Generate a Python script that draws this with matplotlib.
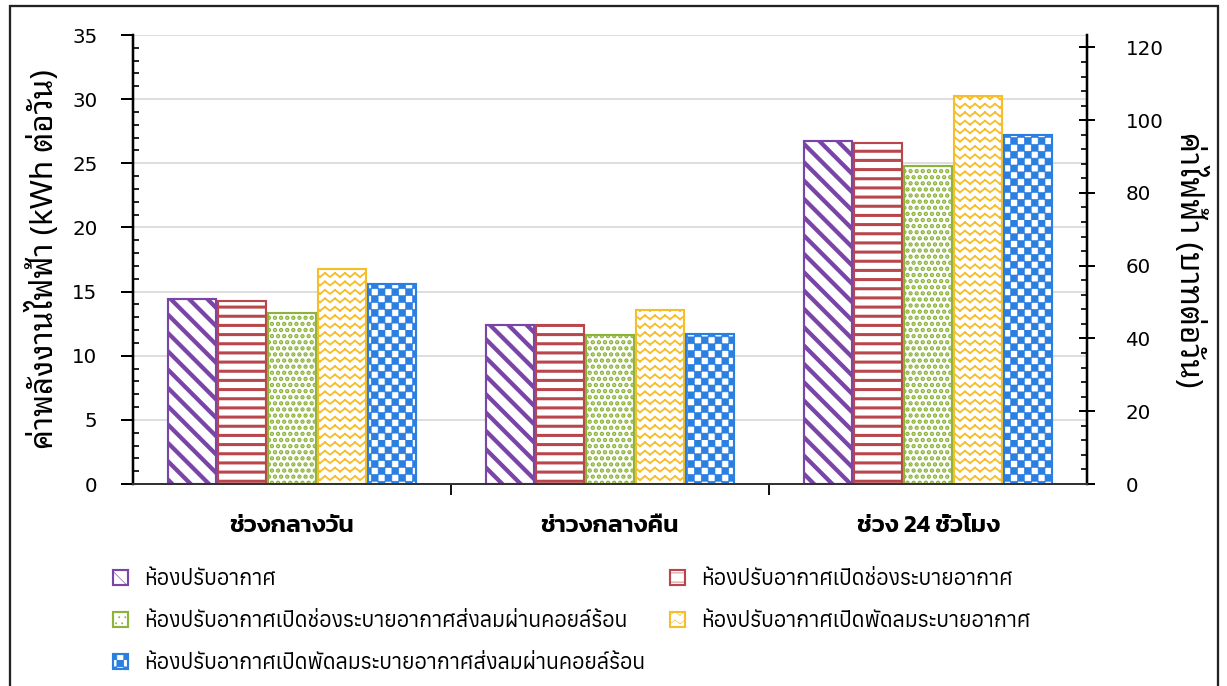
import warnings
import numpy as np
import matplotlib
matplotlib.use('Agg')
import matplotlib.pyplot as plt
import matplotlib.hatch as mhatch
from matplotlib import font_manager
from matplotlib.ft2font import FT2Font
from matplotlib.path import Path
from matplotlib.patches import Rectangle

warnings.filterwarnings('ignore')

categories = ['ช่วงกลางวัน', 'ช่าวงกลางคืน', 'ช่วง 24 ชั่วโมง']
series_names = [
    'ห้องปรับอากาศ',
    'ห้องปรับอากาศเปิดช่องระบายอากาศ',
    'ห้องปรับอากาศเปิดช่องระบายอากาศส่งลมผ่านคอยล์ร้อน',
    'ห้องปรับอากาศเปิดพัดลมระบายอากาศ',
    'ห้องปรับอากาศเปิดพัดลมระบายอากาศส่งลมผ่านคอยล์ร้อน',
]
ac = [14.4, 12.4, 26.7]
ac_vent = [14.25, 12.4, 26.55]
ac_vent_coil = [13.3, 11.6, 24.8]
ac_fan = [16.75, 13.6, 30.25]
ac_fan_coil = [15.6, 11.7, 27.2]
kwh_values = [ac, ac_vent, ac_vent_coil, ac_fan, ac_fan_coil]

baht_per_kwh = 3.526

colors = ['#7B45A8', '#B8464C', '#8CB33A', '#F5BE2A', '#2A7FE0']
hatches = ['\\\\', '--', '...', 'z', 'c']
hatch_widths = [2.8, 2.0, 2.0, 1.2, 0.4]


# extra hatch styles: zigzag ('z') and checkerboard ('c')
class ZigzagHatch(mhatch.HatchPatternBase):
    rows, cols, amp = 13, 11, 0.035

    def __init__(self, hatch, density):
        self.on = 'z' in hatch
        self.num_vertices = self.rows * self.cols * 4 if self.on else 0

    def set_vertices_and_codes(self, vertices, codes):
        k = 0
        for r in range(self.rows):
            y0 = (r + 0.5) / self.rows - self.amp / 2
            for c in range(self.cols):
                x0 = c / self.cols
                xm = (c + 0.5) / self.cols
                x1 = (c + 1) / self.cols
                vertices[k:k + 4] = [(x0, y0), (xm, y0 + self.amp),
                                     (xm, y0 + self.amp), (x1, y0)]
                codes[k:k + 4] = [Path.MOVETO, Path.LINETO,
                                  Path.MOVETO, Path.LINETO]
                k += 4


class CheckerHatch(mhatch.HatchPatternBase):
    n = 16

    def __init__(self, hatch, density):
        self.on = 'c' in hatch
        self.num_vertices = (self.n * self.n // 2) * 5 if self.on else 0

    def set_vertices_and_codes(self, vertices, codes):
        k = 0
        s = 1.0 / self.n
        for i in range(self.n):
            for j in range(self.n):
                if (i + j) % 2:
                    continue
                x, y = i * s, j * s
                vertices[k:k + 5] = [(x, y), (x + s, y), (x + s, y + s),
                                     (x, y + s), (x, y)]
                codes[k:k + 5] = [Path.MOVETO, Path.LINETO, Path.LINETO,
                                  Path.LINETO, Path.CLOSEPOLY]
                k += 5


mhatch._hatch_types.extend([ZigzagHatch, CheckerHatch])


def has_thai(fname):
    try:
        return 0x0E2B in FT2Font(fname).get_charmap()
    except Exception:
        return False


thai_fonts = sorted({f.name for f in font_manager.fontManager.ttflist
                     if has_thai(f.fname)})


def pick(*names):
    for n in names:
        if n in thai_fonts:
            return [n, 'DejaVu Sans']
    return [thai_fonts[0] if thai_fonts else 'DejaVu Sans', 'DejaVu Sans']


body_font = pick('Anuphan')
looped_font = pick('Noto Sans Thai Looped', 'IBM Plex Sans Thai Looped')
bold_font = pick('Kanit', 'Prompt')
plt.rcParams['font.family'] = body_font

W, H, DPI = 1227, 686, 110
fig = plt.figure(figsize=(W / DPI, H / DPI), dpi=DPI)
ax = fig.add_axes([132.7 / W, 1 - 484 / H, (1087.3 - 132.7) / W, (484 - 35) / H])
ax2 = ax.twinx()

x = np.arange(len(categories))
bw = 0.157
handles = []
for k, vals in enumerate(kwh_values):
    plt.rcParams['hatch.linewidth'] = hatch_widths[k]
    bars = ax.bar(x + (k - 2) * bw, vals, width=bw - 0.005, color='white',
                  edgecolor=colors[k], hatch=hatches[k], linewidth=1.4,
                  label=series_names[k], zorder=3)
    for b in bars:
        if hasattr(b, 'set_hatch_linewidth'):
            b.set_hatch_linewidth(hatch_widths[k])
    handles.append(bars)

ax.set_xlim(-0.5, 2.5)
ax.set_ylim(0, 35)
ax2.set_ylim(0, 35 * baht_per_kwh)

ax.set_yticks(np.arange(0, 36, 5))
ax.set_yticks(np.arange(0, 36, 1), minor=True)
ax2.set_yticks(np.arange(0, 121, 20))
ax2.set_yticks(np.arange(0, 121, 4), minor=True)

ax.set_xticks([0.5, 1.5], ['', ''])
ax.set_xticks(x, categories, minor=True)
ax.tick_params(axis='x', which='major', direction='out', length=7, width=1.2)
ax.tick_params(axis='x', which='minor', length=0, pad=20)
for lbl in ax.get_xticklabels(minor=True):
    lbl.set_fontfamily(bold_font)
    lbl.set_fontweight('semibold')
    lbl.set_fontsize(16)

ax.tick_params(axis='y', which='major', direction='out', length=8, width=1.3,
               pad=15)
ax.tick_params(axis='y', which='minor', direction='in', length=4, width=1.1)
ax2.tick_params(axis='y', which='major', direction='inout', length=10,
                width=1.3, pad=20)
ax2.tick_params(axis='y', which='minor', direction='in', length=4, width=1.1)
for lbl in ax.get_yticklabels() + ax2.get_yticklabels():
    lbl.set_fontfamily('DejaVu Sans')
    lbl.set_fontsize(13)

ax.grid(axis='y', which='major', color='#D4D4D4', linewidth=1.0, zorder=0)
ax.set_axisbelow(True)

for a in (ax, ax2):
    a.spines['top'].set_visible(False)
    a.spines['left'].set_linewidth(1.5)
    a.spines['right'].set_linewidth(1.5)
    a.spines['bottom'].set_linewidth(1.3)
    a.spines['bottom'].set_color('#333333')

ax.set_ylabel('ค่าพลังงานไฟฟ้า (kWh ต่อวัน)', fontsize=20.5, labelpad=8,
              family=looped_font)
ax2.set_ylabel('ค่าไฟฟ้า (บาทต่อวัน)', fontsize=20.5, rotation=270,
               va='bottom', labelpad=6, family=looped_font)

# legend laid out in two columns, filled row by row
leg_kw = dict(loc='upper left', frameon=False, fontsize=14, borderpad=0,
              borderaxespad=0, handlelength=0.7, handleheight=0.7,
              handletextpad=0.75, labelspacing=1.08)
left_col = [handles[0], handles[2], handles[4]]
right_col = [handles[1], handles[3]]
fig.legend(left_col, [series_names[i] for i in (0, 2, 4)],
           bbox_to_anchor=(113 / W, 1 - 570 / H), **leg_kw)
fig.legend(right_col, [series_names[i] for i in (1, 3)],
           bbox_to_anchor=(670 / W, 1 - 570 / H), **leg_kw)

fig.patches.append(Rectangle((10 / W, -0.05), (1218 - 10) / W, 1.05 - 6 / H,
                             transform=fig.transFigure, fill=False,
                             edgecolor='#222222', linewidth=1.5))

fig.savefig('out.png', dpi=DPI)
